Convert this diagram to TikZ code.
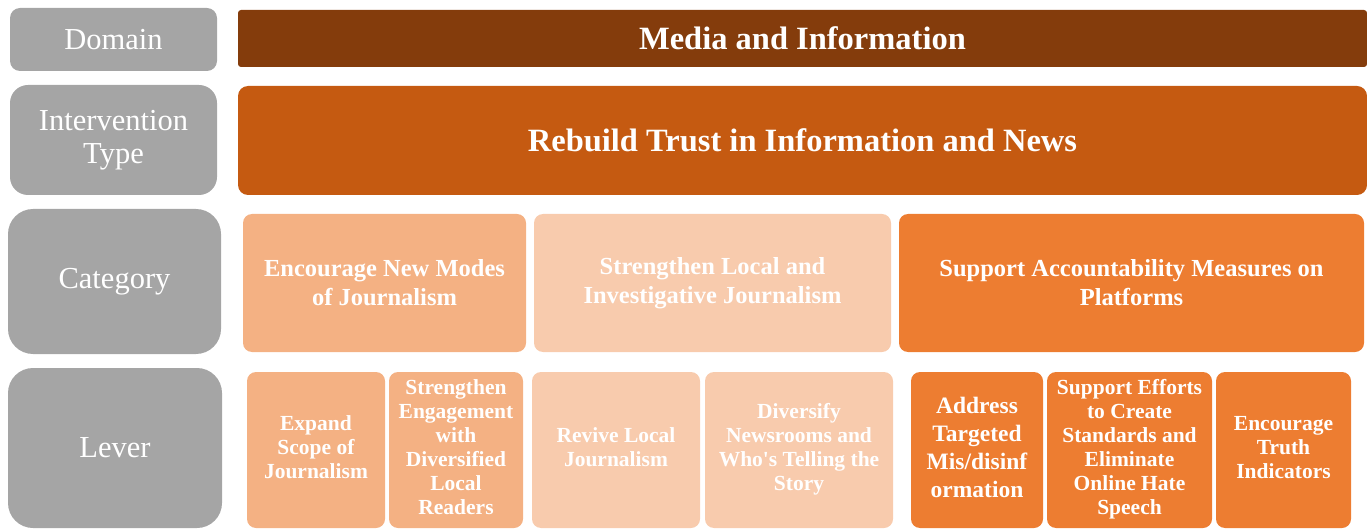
\documentclass[tikz,border=0pt]{standalone}
\usepackage{fontspec}
\setmainfont{Liberation Serif}
\usepackage{graphicx}

\definecolor{greylab}{HTML}{A5A5A5}
\definecolor{domainc}{HTML}{843C0C}
\definecolor{typec}{HTML}{C55A11}
\definecolor{catA}{HTML}{F4B183}
\definecolor{catB}{HTML}{F8CBAD}
\definecolor{catC}{HTML}{ED7D31}

% multi-line text for the lever boxes
\newcommand{\lvtext}[2][1]{\scalebox{#1}[1]{\begin{tabular}{@{}c@{}}#2\end{tabular}}}

\begin{document}
\begin{tikzpicture}[x=1pt,y=-1pt,
  rowlab/.style={fill=greylab, text=white, inner sep=0pt, align=center,
    font=\fontsize{30.5}{33}\selectfont},
  band/.style={text=white, inner sep=0pt, align=center,
    font=\bfseries\fontsize{32.5}{36}\selectfont},
  cat/.style={text=white, inner sep=0pt, align=center, rounded corners=9pt,
    minimum height=138pt, font=\bfseries\fontsize{24.5}{29}\selectfont},
  lev/.style={text=white, inner sep=0pt, align=center, rounded corners=9pt,
    minimum height=156pt, font=\bfseries\fontsize{21.5}{24}\selectfont}]
\useasboundingbox (0,0) rectangle (1367,529);

% row labels on the left
\node[rowlab, rounded corners=10pt, minimum width=207pt, minimum height=63pt]
  (domain) at (113.5,39.5) {Domain};
\node[rowlab, rounded corners=18pt, minimum width=207pt, minimum height=110pt]
  (itype) at (113.5,140) {Intervention\\Type};
\node[rowlab, rounded corners=25pt, minimum width=213pt, minimum height=145pt]
  (category) at (114.5,281.5) {Category};
\node[rowlab, rounded corners=25pt, minimum width=214pt, minimum height=160pt]
  (lever) at (115,448) {Lever};

% the two full-width bands
\node[band, fill=domainc, rounded corners=3pt, minimum width=1129pt, minimum height=57pt]
  (media) at (802.5,38.5) {Media and Information};
\node[band, fill=typec, rounded corners=10pt, minimum width=1129pt, minimum height=109pt]
  (rebuild) at (802.5,140.5) {Rebuild Trust in Information and News};

% categories
\node[cat, fill=catA, minimum width=283pt] (newmodes) at (384.5,283)
  {Encourage New Modes\\of Journalism};
\node[cat, fill=catB, minimum width=357pt] (localinv) at (712.5,283)
  {Strengthen Local and\\Investigative Journalism};
\node[cat, fill=catC, minimum width=465pt] (account) at (1131.5,283)
  {Support Accountability Measures on\\Platforms};

% levers
\node[lev, fill=catA, minimum width=138pt] (expand) at (316,450)
  {\lvtext{Expand\\Scope of\\Journalism}};
\node[lev, fill=catA, minimum width=134pt] (engage) at (456,450)
  {\lvtext{Strengthen\\Engagement\\with\\Diversified\\Local\\Readers}};
\node[lev, fill=catB, minimum width=168pt] (revive) at (616,450)
  {\lvtext{Revive Local\\Journalism}};
\node[lev, fill=catB, minimum width=188pt] (diversify) at (799,450)
  {\lvtext{Diversify\\Newsrooms and\\Who\textquotesingle s Telling the\\Story}};
\node[lev, fill=catC, minimum width=132pt, font=\bfseries\fontsize{23.5}{28}\selectfont]
  (address) at (977,450) {\lvtext{Address\\Targeted\\Mis/disinf\\ormation}};
\node[lev, fill=catC, minimum width=165pt] (efforts) at (1129.5,450)
  {\lvtext{Support Efforts\\to Create\\Standards and\\Eliminate\\Online Hate\\Speech}};
\node[lev, fill=catC, minimum width=135pt] (truth) at (1283.5,450)
  {\lvtext{Encourage\\Truth\\Indicators}};
\end{tikzpicture}
\end{document}
